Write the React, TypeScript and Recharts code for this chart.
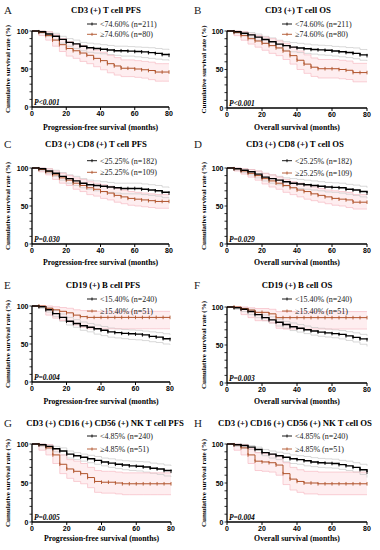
import React from 'react';
import { ComposedChart, Line, Area, XAxis, YAxis } from 'recharts';

const months = [0, 4, 8, 12, 16, 20, 24, 28, 32, 36, 40, 44, 48, 52, 56, 60, 64, 68, 72, 76, 80];
const xTicks = [0, 20, 40, 60, 80];
const yTicks = [0, 10, 20, 30, 40, 50, 60, 70, 80, 90, 100];

// A: CD3 (+) T cell PFS
const aK = [100, 99, 96, 93, 89, 85, 83, 80, 78, 77, 76, 75, 74, 74, 73.5, 73, 72.5, 71.5, 70.5, 69, 68];
const aR = [100, 98, 94, 88, 82, 77, 74, 71, 68, 64, 61, 57, 54, 51, 51, 50, 49, 48, 46, 46, 46];
const aKHi = [100, 100, 99, 97, 93, 90, 88, 85, 84, 83, 82, 81, 80, 80, 79.5, 79, 78.5, 78, 77, 76, 75];
const aKLo = [100, 97, 93, 89, 84, 80, 77, 74, 72, 71, 70, 69, 68, 67, 67, 66, 65, 64, 63, 62, 61];
const aRHi = [100, 100, 99, 95, 90, 86, 83, 81, 78, 75, 72, 68, 65, 62, 62, 61, 60, 59, 57, 57, 57];
const aRLo = [100, 94, 88, 80, 73, 67, 64, 60, 57, 53, 49, 45, 42, 40, 40, 39, 38, 36, 34, 34, 34];

// B: CD3 (+) T cell OS
const bK = [100, 99, 97, 95, 92, 89, 86, 83, 81, 79, 78, 77, 76, 75.5, 75, 74, 73, 72, 71, 69, 68];
const bR = [100, 98, 94, 90, 87, 84, 81, 78, 74, 68, 62, 57, 53, 51, 51, 51, 50, 49, 46, 46, 46];
const bKHi = [100, 100, 99, 98, 96, 93, 91, 88, 86, 85, 84, 83, 82, 81.5, 81, 80, 79.5, 78.5, 78, 76, 75];
const bKLo = [100, 97, 95, 92, 88, 84, 81, 78, 75, 73, 72, 71, 70, 69, 68.5, 67.5, 66.5, 65.5, 64, 62, 61];
const bRHi = [100, 100, 99, 96, 94, 92, 90, 87, 84, 79, 74, 69, 65, 63, 63, 63, 62, 61, 58, 58, 58];
const bRLo = [100, 94, 88, 83, 79, 75, 71, 68, 63, 57, 50, 45, 41, 39, 39, 39, 38, 37, 34, 34, 34];

// C: CD3 (+) CD8 (+) T cell PFS
const cK = [100, 99, 96, 93, 89, 86, 83, 80, 78, 77, 76, 75, 74, 73, 73, 73, 72, 71, 70, 68, 67];
const cR = [100, 98, 95, 91, 87, 84, 80, 77, 74, 72, 69, 67, 64, 62, 60, 59, 58, 57, 56, 56, 56];
const cKHi = [100, 100, 99, 97, 94, 91, 89, 86, 84, 83, 82, 81, 80, 80, 80, 80, 79, 78, 77, 75, 74];
const cKLo = [100, 97, 93, 89, 84, 80, 77, 74, 72, 70, 69, 68, 67, 66, 66, 66, 65, 64, 63, 61, 60];
const cRHi = [100, 100, 99, 96, 93, 90, 87, 85, 82, 80, 78, 76, 73, 71, 69, 68, 67, 66, 65, 65, 65];
const cRLo = [100, 95, 91, 85, 80, 77, 72, 69, 65, 63, 60, 58, 55, 53, 51, 50, 49, 48, 47, 47, 47];

// D: CD3 (+) CD8 (+) T cell OS
const dK = [100, 99, 97, 95, 92, 88, 86, 84, 82, 80, 79, 78, 77, 76, 75, 74.5, 74, 72, 71, 69, 67];
const dR = [100, 99, 96, 93, 90, 86, 83, 80, 77, 74, 71, 69, 66, 64, 62, 60, 59, 58, 55, 55, 55];
const dKHi = [100, 100, 99, 98, 96, 93, 91, 89, 87, 86, 85, 84, 83, 82, 81, 80.5, 80, 78.5, 77.5, 76, 74];
const dKLo = [100, 97, 94, 91, 87, 83, 80, 78, 76, 74, 73, 72, 71, 70, 68.5, 68, 67, 65.5, 64, 62, 60];
const dRHi = [100, 100, 99, 98, 96, 93, 91, 88, 85, 82, 80, 78, 75, 73, 71, 70, 69, 68, 65, 65, 65];
const dRLo = [100, 96, 92, 88, 84, 79, 75, 72, 68, 65, 62, 59, 57, 55, 53, 51, 50, 48, 46, 46, 46];

// E: CD19 (+) B cell PFS
const eK = [100, 99, 95, 90, 85, 80, 77, 74, 72, 70, 68, 66, 65, 64, 63.5, 63, 62, 60, 59, 57, 56];
const eR = [100, 100, 97, 95, 93, 91, 88, 86, 85, 85, 85, 85, 85, 85, 85, 85, 85, 85, 85, 85, 85];
const eKHi = [100, 100, 98, 94, 89.5, 85, 82, 79, 77, 75, 73, 71, 70, 69, 68.5, 68, 67, 66, 65, 63.5, 62];
const eKLo = [100, 97, 92, 86, 80, 75, 72, 68, 66, 63, 61, 59, 58, 57, 56, 55.5, 54.5, 53, 52, 50, 49];
const eRHi = [100, 100, 100, 99, 98, 97, 95, 94, 93, 93, 93, 93, 93, 93, 93, 93, 93, 93, 93, 93, 93];
const eRLo = [100, 100, 88, 84, 81, 79, 75, 72, 70, 70, 70, 70, 70, 70, 70, 70, 70, 70, 70, 70, 70];

// F: CD19 (+) B cell OS
const fK = [100, 99, 97, 94, 90, 86, 83, 80, 77, 74, 72, 70, 68.5, 67, 66, 65, 64, 62, 60, 58, 57];
const fR = [100, 100, 98, 96, 93, 93, 91, 86, 86, 86, 86, 86, 86, 86, 86, 86, 86, 86, 86, 86, 86];
const fKHi = [100, 100, 99, 97, 93, 89.5, 87, 84, 81, 79, 77, 75, 73, 72, 71, 70, 69, 67.5, 66, 64, 62];
const fKLo = [100, 97, 94, 90, 86, 82, 79, 75, 72, 69, 67, 65, 63, 61.5, 60.5, 59.5, 58, 56, 54, 51, 48];
const fRHi = [100, 100, 100, 99, 98, 98, 97, 94, 94, 94, 94, 94, 94, 94, 94, 94, 94, 94, 94, 94, 94];
const fRLo = [100, 100, 90, 86, 82, 82, 79, 72, 71, 71, 71, 71, 71, 71, 71, 71, 71, 71, 71, 71, 71];

// G: CD3 (+) CD16 (+) CD56 (+) NK T cell PFS
const gK = [100, 99, 97, 94, 91, 87, 85, 83, 81, 79, 77, 75.5, 74, 73, 72, 71.5, 70.5, 69, 68, 66, 65];
const gR = [100, 99, 95, 86, 74, 68, 65, 62, 57, 52, 51, 51, 50, 49, 49, 49, 49, 49, 49, 49, 49];
const gKHi = [100, 100, 99, 97, 95, 91, 89, 87, 85.5, 84, 82, 81, 79.5, 78.5, 78, 77.5, 77, 75.5, 74.5, 73, 72];
const gKLo = [100, 97, 94, 90, 86, 82, 80, 78, 76, 74, 72, 70, 68.5, 67, 66, 65.5, 64, 62.5, 61, 59, 58];
const gRHi = [100, 100, 99, 94, 86, 80, 78, 75, 70, 66, 65, 65, 64, 63, 63, 63, 63, 63, 63, 63, 63];
const gRLo = [100, 92, 86, 75, 62, 56, 52, 49, 44, 38, 37, 37, 36, 35, 35, 35, 35, 35, 35, 35, 35];

// H: CD3 (+) CD16 (+) CD56 (+) NK T cell OS
const hK = [100, 99, 98, 96, 93, 89, 87, 85, 83, 81, 80, 78.5, 77, 76, 75.5, 75, 73.5, 72, 70, 67, 64];
const hR = [100, 99, 95, 86, 78, 77, 76, 73, 62, 55, 52, 50, 50, 49, 49, 49, 49, 49, 49, 49, 49];
const hKHi = [100, 100, 99.5, 98, 96, 93, 91, 89.5, 88, 86, 85, 84, 82.5, 81.5, 81, 80.5, 79, 78, 76, 74, 72];
const hKLo = [100, 97, 95, 93, 89, 85, 82, 80, 77, 75, 74, 72, 71, 70, 69.5, 69, 67.5, 66, 64, 61, 57];
const hRHi = [100, 100, 99, 94, 89, 88, 87, 85, 76, 70, 67, 65, 65, 64, 64, 64, 64, 64, 64, 64, 64];
const hRLo = [100, 92, 86, 75, 66, 65, 64, 60, 48, 41, 38, 36, 36, 35, 35, 35, 35, 35, 35, 35, 35];

const letters = ['A', 'B', 'C', 'D', 'E', 'F', 'G', 'H'];
const titles = [
  'CD3 (+) T cell PFS',
  'CD3 (+) T cell OS',
  'CD3 (+) CD8 (+) T cell PFS',
  'CD3 (+) CD8 (+) T cell OS',
  'CD19 (+) B cell PFS',
  'CD19 (+) B cell OS',
  'CD3 (+) CD16 (+) CD56 (+) NK T cell PFS',
  'CD3 (+) CD16 (+) CD56 (+) NK T cell OS',
];
const legendLow = [
  '<74.60% (n=211)', '<74.60% (n=211)', '<25.25% (n=182)', '<25.25% (n=182)',
  '<15.40% (n=240)', '<15.40% (n=240)', '<4.85% (n=240)', '<4.85% (n=240)',
];
const legendHigh = [
  '≥74.60% (n=80)', '≥74.60% (n=80)', '≥25.25% (n=109)', '≥25.25% (n=109)',
  '≥15.40% (n=51)', '≥15.40% (n=51)', '≥4.85% (n=51)', '≥4.85% (n=51)',
];
const pValues = ['<0.001', '<0.001', '=0.030', '=0.029', '=0.004', '=0.003', '=0.005', '=0.004'];
const xLabels = [
  'Progression-free survival (months)', 'Overall survival (months)',
  'Progression-free survival (months)', 'Overall survival (months)',
  'Progression-free survival (months)', 'Overall survival (months)',
  'Progression-free survival (months)', 'Overall survival (months)',
];

const series = [
  [aK, aR, aKHi, aKLo, aRHi, aRLo],
  [bK, bR, bKHi, bKLo, bRHi, bRLo],
  [cK, cR, cKHi, cKLo, cRHi, cRLo],
  [dK, dR, dKHi, dKLo, dRHi, dRLo],
  [eK, eR, eKHi, eKLo, eRHi, eRLo],
  [fK, fR, fKHi, fKLo, fRHi, fRLo],
  [gK, gR, gKHi, gKLo, gRHi, gRLo],
  [hK, hR, hKHi, hKLo, hRHi, hRLo],
];

const layout = [
  { px: 0, L: 32, T: 31, R: 169, B: 107, titleX: 106, titleY: 10, leg: [24, 34.3], xLabY: 127 },
  { px: 190, L: 227, T: 31, R: 367, B: 108, titleX: 298, titleY: 10, leg: [24, 34.3], xLabY: 127 },
  { px: 0, L: 32, T: 168, R: 169, B: 244, titleX: 96, titleY: 144, leg: [160.7, 172.3], xLabY: 262 },
  { px: 190, L: 227, T: 168, R: 367, B: 244, titleX: 295, titleY: 144, leg: [160.7, 173], xLabY: 262 },
  { px: 0, L: 32, T: 306, R: 170, B: 382, titleX: 103, titleY: 285, leg: [299, 311], xLabY: 401.5 },
  { px: 190, L: 227, T: 307, R: 367, B: 383, titleX: 297, titleY: 285, leg: [299, 311], xLabY: 401.5 },
  { px: 0, L: 32, T: 444, R: 171, B: 522, titleX: 105, titleY: 423, leg: [436, 449], xLabY: 538 },
  { px: 190, L: 227, T: 444, R: 367, B: 522, titleX: 295, titleY: 423, leg: [436, 449], xLabY: 538 },
];

const SERIF = '"Liberation Serif", "Times New Roman", serif';
const SANS = '"Liberation Sans", Arial, sans-serif';
const RED = '#b0532b';
const RED_CI = '#f6bcc4';
const RED_FILL = '#fde2e6';
const GREY_CI = '#c8c8c8';

function buildRows(s: number[][]) {
  const [k, r, kHi, kLo, rHi, rLo] = s;
  return months.map((m, i) => ({
    m,
    k: k[i],
    r: r[i],
    kHi: kHi[i],
    kLo: kLo[i],
    rHi: rHi[i],
    rLo: rLo[i],
    rBand: [rLo[i], rHi[i]],
  }));
}

const makeDot = (color: string) => (props: any) => {
  const { cx, cy, index } = props;
  if (cx == null || cy == null || index === 0) return <g key={`n${index}`} />;
  return (
    <line key={`d${index}`} x1={cx} x2={cx} y1={cy - 1.8} y2={cy + 1.8} stroke={color} strokeWidth={0.9} />
  );
};

const renderYTick = (p: any) => {
  const v = p.payload?.value;
  if (v % 50 !== 0) return <g />;
  return (
    <text x={p.x} y={p.y} dy={2.5} textAnchor="end" fontSize={7} fontWeight="bold" fontFamily={SANS} fill="#000">
      {v}
    </text>
  );
};

function Panel({ idx }: { idx: number }) {
  const box = layout[idx];
  const rows = buildRows(series[idx]);
  const w = box.R - box.L + 30 + 5;
  const h = box.B - box.T + 5 + 15;
  return (
    <div style={{ position: 'absolute', left: box.L - 30, top: box.T - 5 }}>
      <ComposedChart width={w} height={h} data={rows} margin={{ top: 5, right: 5, bottom: 0, left: 0 }}>
        <XAxis
          dataKey="m"
          type="number"
          domain={[0, 80]}
          ticks={xTicks}
          height={15}
          tickSize={3}
          tickMargin={1}
          axisLine={{ stroke: '#000', strokeWidth: 1.3 }}
          tickLine={{ stroke: '#000', strokeWidth: 1 }}
          tick={{ fontSize: 7, fontWeight: 'bold', fill: '#000', fontFamily: SANS }}
          interval={0}
        />
        <YAxis
          type="number"
          domain={[0, 100]}
          ticks={yTicks}
          width={30}
          tickSize={2.5}
          tickMargin={1}
          axisLine={{ stroke: '#000', strokeWidth: 1.3 }}
          tickLine={{ stroke: '#000', strokeWidth: 0.8 }}
          tick={renderYTick}
          interval={0}
        />
        <Area dataKey="rBand" type="stepAfter" stroke="none" fill={RED_FILL} fillOpacity={0.6} isAnimationActive={false} />
        <Line dataKey="kHi" type="stepAfter" stroke={GREY_CI} strokeWidth={0.7} dot={false} isAnimationActive={false} />
        <Line dataKey="kLo" type="stepAfter" stroke={GREY_CI} strokeWidth={0.7} dot={false} isAnimationActive={false} />
        <Line dataKey="rHi" type="stepAfter" stroke={RED_CI} strokeWidth={0.7} dot={false} isAnimationActive={false} />
        <Line dataKey="rLo" type="stepAfter" stroke={RED_CI} strokeWidth={0.7} dot={false} isAnimationActive={false} />
        <Line dataKey="r" type="stepAfter" stroke={RED} strokeWidth={1} dot={makeDot(RED)} isAnimationActive={false} />
        <Line dataKey="k" type="stepAfter" stroke="#000" strokeWidth={1.4} dot={makeDot('#000')} isAnimationActive={false} />
      </ComposedChart>
    </div>
  );
}

function Overlay() {
  return (
    <svg width={380} height={550} style={{ position: 'absolute', left: 0, top: 0, pointerEvents: 'none' }}>
      {layout.map((b, i) => {
        const yLabX = b.px === 0 ? 10 : 206;
        const yMid = (b.T + b.B) / 2;
        const lx1 = b.L + 55;
        const lx2 = b.L + 65;
        return (
          <g key={i}>
            <text x={b.px + 4} y={b.titleY + 4} fontSize={11} fontFamily={SERIF} fill="#222">{letters[i]}</text>
            <text x={b.titleX} y={b.titleY + 3} textAnchor="middle" fontSize={8.7} fontWeight="bold" fontFamily={SERIF} fill="#000">
              {titles[i]}
            </text>
            <line x1={lx1} x2={lx2} y1={b.leg[0]} y2={b.leg[0]} stroke="#000" strokeWidth={0.9} />
            <line x1={(lx1 + lx2) / 2} x2={(lx1 + lx2) / 2} y1={b.leg[0] - 1.5} y2={b.leg[0] + 1.5} stroke="#000" strokeWidth={0.9} />
            <text x={lx2 + 3} y={b.leg[0] + 2.8} fontSize={8} fontFamily={SERIF} fill="#222">{legendLow[i]}</text>
            <line x1={lx1} x2={lx2} y1={b.leg[1]} y2={b.leg[1]} stroke={RED} strokeWidth={0.9} />
            <line x1={(lx1 + lx2) / 2} x2={(lx1 + lx2) / 2} y1={b.leg[1] - 1.5} y2={b.leg[1] + 1.5} stroke={RED} strokeWidth={0.9} />
            <text x={lx2 + 3} y={b.leg[1] + 2.8} fontSize={8} fontFamily={SERIF} fill="#222">{legendHigh[i]}</text>
            <text x={b.L + 2} y={b.B - 2} fontSize={7.5} fontWeight="bold" fontStyle="italic" fontFamily={SERIF} fill="#000">
              {'P' + pValues[i]}
            </text>
            <text x={(b.L + b.R) / 2} y={b.xLabY + 2.7} textAnchor="middle" fontSize={7.8} fontWeight="bold" fontFamily={SERIF} fill="#000">
              {xLabels[i]}
            </text>
            <text
              x={yLabX}
              y={yMid}
              transform={`rotate(-90 ${yLabX} ${yMid})`}
              textAnchor="middle"
              fontSize={7}
              fontWeight="bold"
              fontFamily={SERIF}
              fill="#000"
            >
              Cumulative survival rate (%)
            </text>
          </g>
        );
      })}
    </svg>
  );
}

export default function App() {
  return (
    <div style={{ position: 'absolute', left: 0, top: 0, width: 380, height: 550, background: '#fff', overflow: 'hidden' }}>
      {layout.map((_, i) => (
        <Panel key={i} idx={i} />
      ))}
      <Overlay />
    </div>
  );
}
